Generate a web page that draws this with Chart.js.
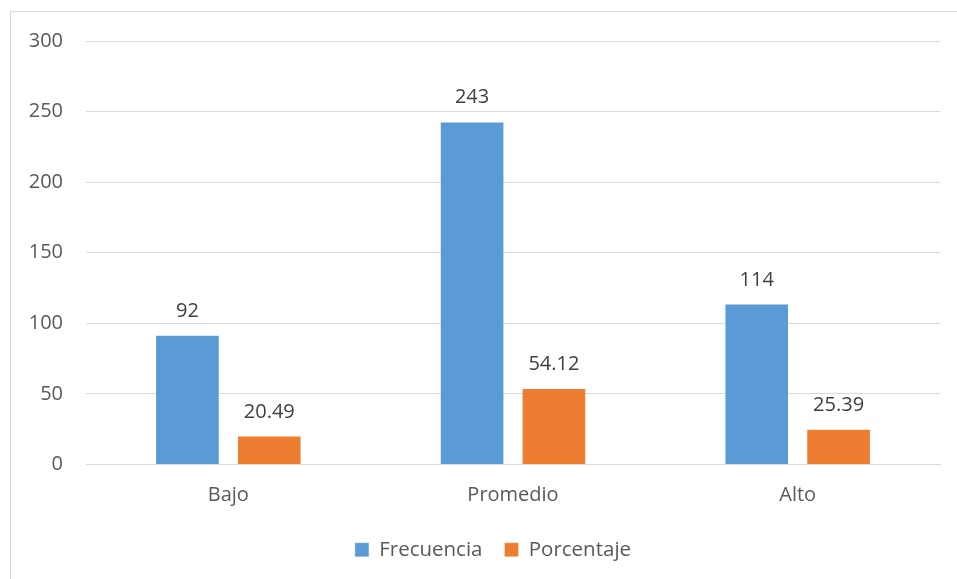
<!DOCTYPE html>
<html>
<head>
<meta charset="utf-8">
<script src="https://cdn.jsdelivr.net/npm/chart.js@4"></script>
<style>
  body { margin: 0; background: #fff; }
  #frame { position: absolute; left: 10px; top: 11px; width: 1000px; height: 600px;
           border-left: 1px solid #d9d9d9; border-top: 1px solid #d9d9d9; }
  #wrap { position: absolute; left: 0; top: 0; width: 957px; height: 579px; }
</style>
</head>
<body>
<div id="frame"></div>
<div id="wrap"><canvas id="myChart"></canvas></div>
<script>
// categorias y series
var categorias = ['Bajo', 'Promedio', 'Alto'];
var frecuencia = [92, 243, 114];
var porcentaje = [20.49, 54.12, 25.39];
var frecuenciaLabels = ['92', '243', '114'];
var porcentajeLabels = ['20.49', '54.12', '25.39'];

var textColor = '#595959';
var gridColor = '#d9d9d9';

// etiquetas de valor encima de las barras
var valueLabels = {
  id: 'valueLabels',
  afterLayout: function(chart) {
    // la leyenda del original esta un poco a la derecha
    chart.legend.left += 23;
    chart.legend.right += 23;
  },
  afterDatasetsDraw: function(chart) {
    var ctx = chart.ctx;
    ctx.save();
    ctx.fillStyle = '#404040';
    ctx.font = '20px "Open Sans"';
    ctx.textAlign = 'center';
    ctx.textBaseline = 'alphabetic';
    chart.data.datasets.forEach(function(ds, i) {
      var meta = chart.getDatasetMeta(i);
      meta.data.forEach(function(bar, j) {
        ctx.fillText(ds.valueText[j], bar.x, bar.y - 18);
      });
    });
    ctx.restore();
  }
};

var config = {
  type: 'bar',
  data: {
    labels: categorias,
    datasets: [{
      label: 'Frecuencia',
      data: frecuencia,
      valueText: frecuenciaLabels,
      backgroundColor: '#5B9BD5',
      borderColor: 'rgba(255,255,255,0.3)',
      borderWidth: 1,
      categoryPercentage: 0.575,
      barPercentage: 0.79
    }, {
      label: 'Porcentaje',
      data: porcentaje,
      valueText: porcentajeLabels,
      backgroundColor: '#ED7D31',
      borderColor: 'rgba(255,255,255,0.3)',
      borderWidth: 1,
      categoryPercentage: 0.575,
      barPercentage: 0.79
    }]
  },
  options: {
    responsive: true,
    maintainAspectRatio: false,
    animation: false,
    layout: { padding: { left: 0, right: 17, top: 41, bottom: 9 } },
    plugins: {
      tooltip: { enabled: false },
      legend: {
        position: 'bottom',
        labels: {
          color: textColor,
          font: { family: 'Open Sans', size: 20.5 },
          boxWidth: 14,
          boxHeight: 14,
          padding: 22
        }
      }
    },
    scales: {
      x: {
        grid: { display: false, drawTicks: false },
        border: { color: gridColor, width: 1 },
        ticks: { color: textColor, font: { family: 'Open Sans', size: 20 }, padding: 19 },
        afterFit: function(scale) { scale.height = 53; }
      },
      y: {
        min: 0,
        max: 300,
        grid: { color: gridColor, drawTicks: false },
        border: { display: false },
        ticks: { stepSize: 50, color: textColor, font: { family: 'Open Sans', size: 20 }, padding: 23 },
        afterFit: function(scale) { scale.width = 86; }
      }
    }
  },
  plugins: [valueLabels]
};

var myChart = new Chart(document.getElementById('myChart'), config);
</script>
</body>
</html>
